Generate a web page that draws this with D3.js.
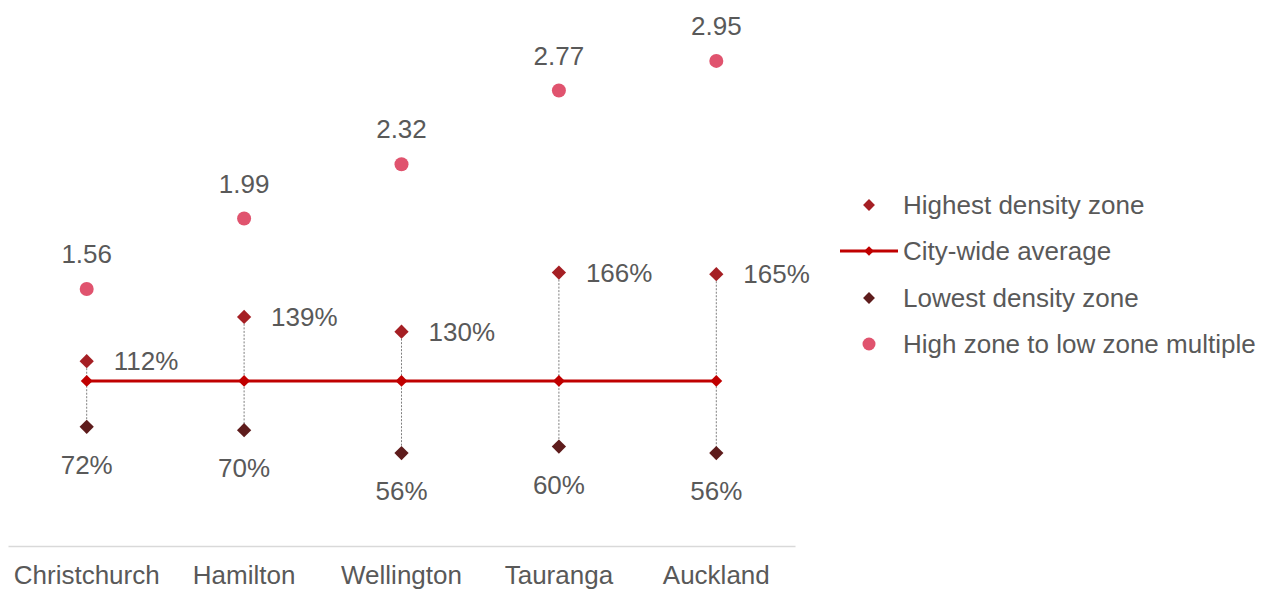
<!DOCTYPE html>
<html>
<head>
<meta charset="utf-8">
<script src="https://cdn.jsdelivr.net/npm/d3@7"></script>
<style>
html,body{margin:0;padding:0;background:#fff;}
svg{display:block;font-family:"Liberation Sans",Arial,sans-serif;}
</style>
</head>
<body>
<svg id="chart" width="1263" height="591"></svg>
<script>
const categories = ["Christchurch","Hamilton","Wellington","Tauranga","Auckland"];
const highest = [1.12, 1.39, 1.30, 1.66, 1.65];
const average = [1.00, 1.00, 1.00, 1.00, 1.00];
const lowest = [0.72, 0.70, 0.56, 0.60, 0.56];
const multiple = [1.56, 1.99, 2.32, 2.77, 2.95];
const highLabels = ["112%","139%","130%","166%","165%"];
const lowLabels = ["72%","70%","56%","60%","56%"];
const multLabels = ["1.56","1.99","2.32","2.77","2.95"];
const legendItems = ["Highest density zone","City-wide average","Lowest density zone","High zone to low zone multiple"];

const colHigh = "#a51f24", colLow = "#5e1c1c", colAvg = "#c00000", colMult = "#e0536e", colText = "#595959";

const svg = d3.select("#chart");
const x = d3.scaleBand().domain(categories).range([8, 795]).padding(0);
const y = d3.scaleLinear().domain([0, 3]).range([545, 52.7]);
const cx = c => x(c) + x.bandwidth()/2;

// axis
const xAxis = d3.axisBottom(x).tickSize(0).tickPadding(0);
const gx = svg.append("g").attr("transform", `translate(0,${y(0)+1})`).call(xAxis);
gx.select(".domain").attr("stroke", "#d9d9d9").attr("stroke-width", 1.5);
gx.selectAll("text").attr("fill", colText).attr("font-size", 26)
  .attr("font-family", "'Liberation Sans',Arial,sans-serif")
  .attr("dy", 0).attr("y", 38);

// high-low dotted lines
svg.append("g").selectAll("line").data(categories).join("line")
  .attr("x1", cx).attr("x2", cx)
  .attr("y1", (d,i) => y(highest[i])).attr("y2", (d,i) => y(lowest[i]))
  .attr("stroke", "#7f7f7f").attr("stroke-width", 1).attr("stroke-dasharray", "2,1.5");

// average line
const line = d3.line().x((d,i) => cx(categories[i])).y(d => y(d));
svg.append("path").datum(average).attr("d", line)
  .attr("fill", "none").attr("stroke", colAvg).attr("stroke-width", 3);
const diamond = size => d3.symbol().type(d3.symbolDiamond2).size(size);
svg.append("g").selectAll("path").data(average).join("path")
  .attr("d", diamond(90)())
  .attr("transform", (d,i) => `translate(${cx(categories[i])},${y(d)})`)
  .attr("fill", colAvg);

// highest
svg.append("g").selectAll("path").data(highest).join("path")
  .attr("d", diamond(130)())
  .attr("transform", (d,i) => `translate(${cx(categories[i])},${y(d)})`)
  .attr("fill", colHigh);
// lowest
svg.append("g").selectAll("path").data(lowest).join("path")
  .attr("d", diamond(130)())
  .attr("transform", (d,i) => `translate(${cx(categories[i])},${y(d)})`)
  .attr("fill", colLow);
// multiple
svg.append("g").selectAll("circle").data(multiple).join("circle")
  .attr("cx", (d,i) => cx(categories[i])).attr("cy", d => y(d)).attr("r", 7)
  .attr("fill", colMult);

// labels
const lab = svg.append("g").attr("fill", colText).attr("font-size", 26);
lab.selectAll(".hl").data(highest).join("text")
  .attr("x", (d,i) => cx(categories[i]) + 27).attr("y", d => y(d)).attr("dy", "0.35em")
  .text((d,i) => highLabels[i]);
lab.selectAll(".ll").data(lowest).join("text")
  .attr("x", (d,i) => cx(categories[i])).attr("y", d => y(d) + 38).attr("dy", "0.35em")
  .attr("text-anchor", "middle").text((d,i) => lowLabels[i]);
lab.selectAll(".ml").data(multiple).join("text")
  .attr("x", (d,i) => cx(categories[i])).attr("y", d => y(d) - 35).attr("dy", "0.35em")
  .attr("text-anchor", "middle").text((d,i) => multLabels[i]);

// legend
const lg = svg.append("g");
const ly = [205, 251, 298, 344];
const lsx = 869, ltx = 903;
legendItems.forEach((t,i) => {
  const g = lg.append("g").attr("transform", `translate(0,${ly[i]})`);
  if (i === 0 || i === 2) {
    g.append("path").attr("d", diamond(90)()).attr("transform", `translate(${lsx},0)`)
      .attr("fill", i === 0 ? colHigh : colLow);
  } else if (i === 1) {
    g.append("line").attr("x1", 840).attr("x2", 898).attr("y1", 0).attr("y2", 0)
      .attr("stroke", colAvg).attr("stroke-width", 3);
    g.append("path").attr("d", diamond(60)()).attr("transform", `translate(${lsx},0)`)
      .attr("fill", colAvg);
  } else {
    g.append("circle").attr("cx", lsx).attr("cy", 0).attr("r", 6.5).attr("fill", colMult);
  }
  g.append("text").attr("x", ltx).attr("y", 0).attr("dy", "0.35em")
    .attr("fill", colText).attr("font-size", 26).text(t);
});
</script>
</body>
</html>
